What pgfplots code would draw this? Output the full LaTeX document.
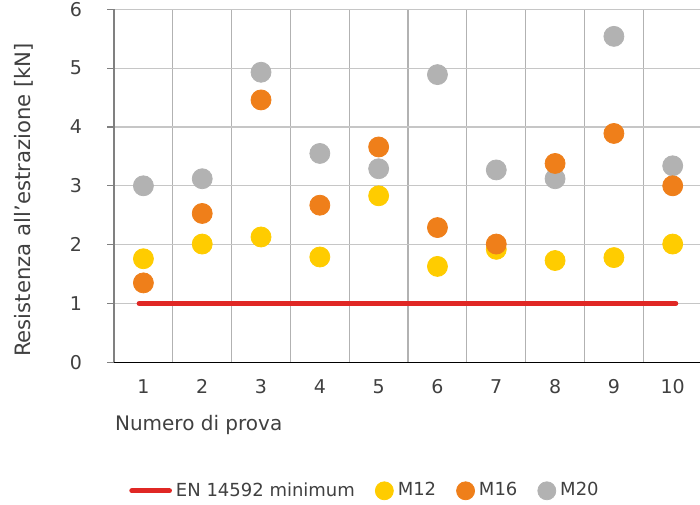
\documentclass[border=0pt]{standalone}
\usepackage{pgfplots}
\pgfplotsset{compat=1.18}
\usepackage{fontspec}
\setmainfont{DejaVu Sans}
\definecolor{cM12}{HTML}{FFCC00}
\definecolor{cM16}{HTML}{EF7F1A}
\definecolor{cM20}{HTML}{B2B2B2}
\definecolor{cEN}{HTML}{E02724}
\definecolor{txt}{HTML}{404040}
\begin{document}
\begin{tikzpicture}
\useasboundingbox (0,0) rectangle (350pt,252pt);
\begin{axis}[
  at={(57pt,70.85pt)}, anchor=south west,
  scale only axis, width=293pt, height=176.5pt,
  xmin=0.5, xmax=10.464, ymin=0, ymax=6,
  axis x line*=bottom, axis y line*=left,
  x axis line style={black, line width=0.6pt},
  y axis line style={gray, line width=0.7pt},
  xtick={1,...,10}, ytick={0,...,6},
  minor xtick={1.5,2.5,...,9.5},
  xminorgrids=true, ymajorgrids=true, xmajorgrids=false,
  grid style={gray!45, line width=0.6pt},
  minor grid style={gray!60, line width=0.6pt},
  x tick style={draw=none}, minor x tick style={draw=none},
  y tick style={gray, line width=0.6pt},
  major tick length=3.5pt, tick align=outside,
  /pgf/number format/assume math mode=true,
  tick label style={font=\fontsize{9.5}{11}\selectfont, text=txt},
  xticklabel style={yshift=-1.5pt},
  yticklabel style={xshift=-9pt},
  xlabel={Numero di prova},
  ylabel={Resistenza all'estrazione [kN]},
  label style={font=\fontsize{10}{12}\selectfont, text=txt},
  xlabel style={at={(axis description cs:0,-0.178)}, anchor=west, xshift=-3pt},
  ylabel style={font=\fontsize{10.6}{12}\selectfont, at={(axis description cs:-0.1536,0.46)}, anchor=center},
  legend columns=4,
  legend cell align=left,
  legend style={draw=none, fill=none, font=\fontsize{9}{11}\selectfont, text=txt,
    at={(axis description cs:0.43,-0.364)}, anchor=center,
    /tikz/every even column/.append style={column sep=8pt}},
]
\addplot[cEN, line width=2.65pt, line cap=round,
  legend image code/.code={\draw[cEN, line width=2.65pt, line cap=round] (1.3pt,0pt) -- (20pt,0pt);}]
  coordinates {(0.93,1) (10.05,1)};
\addlegendentry{EN 14592 minimum}
\addplot[only marks, mark=*, mark size=5pt, color=cM12,
  legend image code/.code={\fill[cM12] (4.5pt,0pt) circle (4.5pt);}]
  coordinates {(1,1.76) (2,2.01) (3,2.13) (4,1.79) (5,2.83) (6,1.63) (7,1.92) (8,1.73) (9,1.78) (10,2.01)};
\addlegendentry{M12}
\addplot[only marks, mark=*, mark size=5pt, color=cM20, forget plot]
  coordinates {(1,3.00) (2,3.12) (3,4.93) (4,3.55) (5,3.29) (6,4.89) (7,3.27) (8,3.12) (9,5.54) (10,3.34)};
\addplot[only marks, mark=*, mark size=5pt, color=cM16,
  legend image code/.code={\fill[cM16] (4.5pt,0pt) circle (4.5pt);}]
  coordinates {(1,1.35) (2,2.53) (3,4.46) (4,2.67) (5,3.66) (6,2.29) (7,2.01) (8,3.38) (9,3.89) (10,3.00)};
\addlegendentry{M16}
\addlegendimage{legend image code/.code={\fill[cM20] (4.5pt,0pt) circle (4.5pt);}}
\addlegendentry{M20}
\end{axis}
\end{tikzpicture}
\end{document}
